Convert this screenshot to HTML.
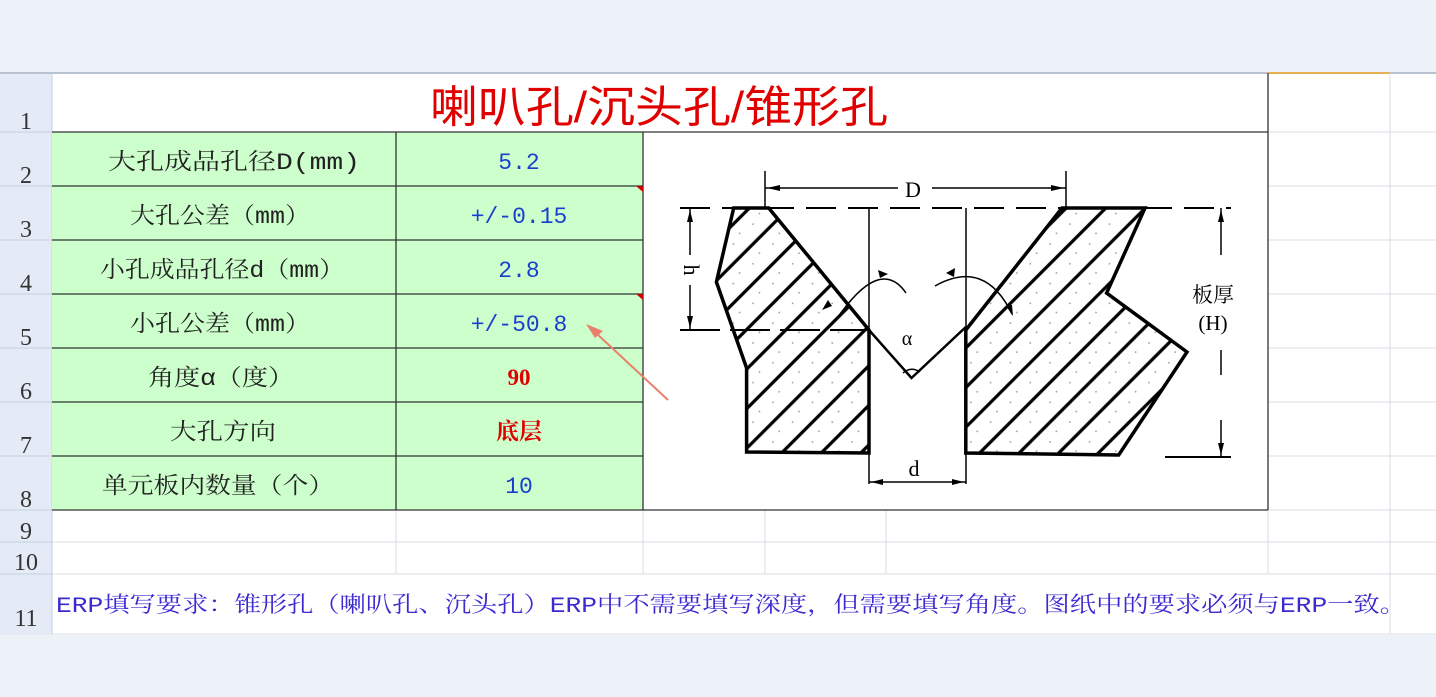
<!DOCTYPE html>
<html><head><meta charset="utf-8"><style>
html,body{margin:0;padding:0;width:1436px;height:697px;overflow:hidden;background:#edf2f9;}
svg{position:absolute;left:0;top:0;}
</style></head><body>
<svg width="1436" height="697" viewBox="0 0 1436 697" xmlns="http://www.w3.org/2000/svg">
<defs>
<pattern id="hatch" patternUnits="userSpaceOnUse" width="28" height="28" patternTransform="rotate(-45)">
<rect width="28" height="28" fill="#fff"/>
<line x1="0" y1="5" x2="28" y2="5" stroke="#000" stroke-width="3.2"/>
<circle cx="10" cy="19" r="0.9" fill="#999"/><circle cx="22" cy="16" r="0.9" fill="#999"/>
</pattern>
</defs>
<rect x="0" y="73" width="1436" height="562" fill="#fff"/>
<rect x="0" y="73" width="52" height="562" fill="#e4ebf6"/>
<line x1="0" y1="73" x2="1436" y2="73" stroke="#b8c2d0" stroke-width="2"/>
<line x1="1268" y1="73" x2="1390" y2="73" stroke="#e8b050" stroke-width="2"/>
<g stroke="#d8dde5" stroke-width="1">
<line x1="1268" y1="132" x2="1436" y2="132"/><line x1="1268" y1="186" x2="1436" y2="186"/>
<line x1="1268" y1="240" x2="1436" y2="240"/><line x1="1268" y1="294" x2="1436" y2="294"/>
<line x1="1268" y1="348" x2="1436" y2="348"/><line x1="1268" y1="402" x2="1436" y2="402"/>
<line x1="1268" y1="456" x2="1436" y2="456"/><line x1="1268" y1="510" x2="1436" y2="510"/>
<line x1="52" y1="542" x2="1436" y2="542"/><line x1="52" y1="574" x2="1436" y2="574"/>
<line x1="52" y1="634" x2="1436" y2="634"/>
<line x1="1390" y1="73" x2="1390" y2="634"/>
<line x1="396" y1="510" x2="396" y2="574"/><line x1="643" y1="510" x2="643" y2="574"/>
<line x1="765" y1="510" x2="765" y2="574"/><line x1="886" y1="510" x2="886" y2="574"/>
<line x1="1268" y1="510" x2="1268" y2="574"/>
</g>
<g stroke="#c5cfdd"><line x1="0" y1="132" x2="52" y2="132"/><line x1="0" y1="186" x2="52" y2="186"/><line x1="0" y1="240" x2="52" y2="240"/><line x1="0" y1="294" x2="52" y2="294"/><line x1="0" y1="348" x2="52" y2="348"/><line x1="0" y1="402" x2="52" y2="402"/><line x1="0" y1="456" x2="52" y2="456"/><line x1="0" y1="510" x2="52" y2="510"/><line x1="0" y1="542" x2="52" y2="542"/><line x1="0" y1="574" x2="52" y2="574"/><line x1="52" y1="73" x2="52" y2="634"/></g>
<rect x="52" y="132" width="591" height="378" fill="#ccffcc"/>
<g stroke="#333" stroke-width="1.3">
<line x1="52" y1="132" x2="1268" y2="132"/>
<line x1="52" y1="186" x2="643" y2="186"/><line x1="52" y1="240" x2="643" y2="240"/>
<line x1="52" y1="294" x2="643" y2="294"/><line x1="52" y1="348" x2="643" y2="348"/>
<line x1="52" y1="402" x2="643" y2="402"/><line x1="52" y1="456" x2="643" y2="456"/>
<line x1="52" y1="510" x2="1268" y2="510"/>
<line x1="396" y1="132" x2="396" y2="510"/><line x1="643" y1="132" x2="643" y2="510"/>
<line x1="1268" y1="73" x2="1268" y2="510"/>
</g>
<polygon points="636,186 643,186 643,192" fill="#c00"/>
<polygon points="636,294 643,294 643,300" fill="#c00"/>
<g font-family="Liberation Serif, serif" font-size="24" fill="#333" text-anchor="middle">
<text x="26" y="129">1</text><text x="26" y="183">2</text><text x="26" y="237">3</text><text x="26" y="291">4</text><text x="26" y="345">5</text><text x="26" y="399">6</text><text x="26" y="453">7</text><text x="26" y="507">8</text><text x="26" y="539">9</text><text x="26" y="570">10</text><text x="26" y="626">11</text>
</g>
<text x="430" y="122" textLength="458" lengthAdjust="spacingAndGlyphs" font-family="Liberation Sans, 'Noto Sans CJK SC', sans-serif" font-size="44" fill="#e00000">喇叭孔/沉头孔/锥形孔</text>
<g font-family="Liberation Mono, 'Noto Serif CJK SC', serif" font-size="23" fill="#222">
<text x="108" y="169" textLength="252" lengthAdjust="spacingAndGlyphs">大孔成品孔径D(mm)</text>
<text x="130" y="223" textLength="180" lengthAdjust="spacingAndGlyphs">大孔公差（mm）</text>
<text x="100" y="277" textLength="244" lengthAdjust="spacingAndGlyphs">小孔成品孔径d（mm）</text>
<text x="130" y="331" textLength="180" lengthAdjust="spacingAndGlyphs">小孔公差（mm）</text>
<text x="148" y="385" textLength="146" lengthAdjust="spacingAndGlyphs">角度α（度）</text>
<text x="170" y="439" textLength="106" lengthAdjust="spacingAndGlyphs">大孔方向</text>
<text x="102" y="493" textLength="232" lengthAdjust="spacingAndGlyphs">单元板内数量（个）</text>
</g>
<g font-family="Liberation Mono, 'Noto Serif CJK SC', monospace" font-size="23" fill="#1a3fcc" text-anchor="middle">
<text x="519" y="169">5.2</text><text x="519" y="223">+/-0.15</text><text x="519" y="277">2.8</text><text x="519" y="331">+/-50.8</text><text x="519" y="493">10</text>
</g>
<g font-family="Liberation Serif, 'Noto Serif CJK SC', serif" font-size="23" fill="#e00000" text-anchor="middle" font-weight="bold">
<text x="519" y="385">90</text><text x="519" y="439">底层</text>
</g>
<text x="56" y="612" textLength="1350" lengthAdjust="spacingAndGlyphs" font-family="Liberation Mono, 'Noto Serif CJK SC', serif" font-size="22" fill="#3a2ad0">ERP填写要求：锥形孔（喇叭孔、沉头孔）ERP中不需要填写深度，但需要填写角度。图纸中的要求必须与ERP一致。</text>
<line x1="668" y1="400" x2="596" y2="333" stroke="#e8806a" stroke-width="2"/>
<polygon points="586,324 603,331 595,338" fill="#e8806a"/>
<g stroke="#000" fill="none">
<polygon points="733.7,208 768.7,208 869,330 869,453 746.6,452 746.6,368 716.4,282" fill="url(#hatch)" stroke-width="3.5"/>
<polygon points="1062,208 1145,208 1106.6,293 1187,352 1118.7,455 965.8,453 965.8,330" fill="url(#hatch)" stroke-width="3.5"/>
<polyline points="869,330 911.5,378 965.8,327" stroke-width="2.5"/>
<line x1="869" y1="208" x2="869" y2="484" stroke-width="1.5"/>
<line x1="966" y1="208" x2="966" y2="484" stroke-width="1.5"/>
<line x1="680" y1="208" x2="1231" y2="208" stroke-width="2" stroke-dasharray="30,12"/>
<line x1="680" y1="330" x2="870" y2="330" stroke-width="2" stroke-dasharray="40,10"/>
<line x1="1165" y1="457" x2="1231" y2="457" stroke-width="2"/>
<line x1="765" y1="171" x2="765" y2="208" stroke-width="1.5"/>
<line x1="1066" y1="171" x2="1066" y2="208" stroke-width="1.5"/>
<line x1="765" y1="188" x2="898" y2="188" stroke-width="1.5"/><line x1="932" y1="188" x2="1066" y2="188" stroke-width="1.5"/>
<line x1="690" y1="208" x2="690" y2="255" stroke-width="1.5"/><line x1="690" y1="285" x2="690" y2="330" stroke-width="1.5"/>
<line x1="1221" y1="208" x2="1221" y2="255" stroke-width="1.5"/><line x1="1221" y1="350" x2="1221" y2="375" stroke-width="1.5"/><line x1="1221" y1="420" x2="1221" y2="457" stroke-width="1.5"/>
<line x1="869" y1="482" x2="966" y2="482" stroke-width="1.5"/>
<path d="M836,320 Q880,255 906,293" stroke-width="1.5"/>
<path d="M935,286 Q985,258 1012,314" stroke-width="1.5"/>
<path d="M903,373 Q911,366 920,372" stroke-width="1.5"/>
</g>
<g fill="#000">
<polygon points="767,188 780,185 780,191"/><polygon points="1064,188 1051,185 1051,191"/>
<polygon points="690,210 687,222 693,222"/><polygon points="690,328 687,316 693,316"/>
<polygon points="1221,210 1218,222 1224,222"/><polygon points="1221,455 1218,443 1224,443"/>
<polygon points="871,482 883,479 883,485"/><polygon points="964,482 952,479 952,485"/>
<polygon points="888,274 878,270 880,278"/><polygon points="946,273 955,268 954,277"/>
<polygon points="822,310 828,300 832,306"/><polygon points="1013,316 1006,306 1012,305"/>
</g>
<g font-family="Liberation Serif, serif" fill="#000" font-size="22" text-anchor="middle">
<text x="913" y="197">D</text>
<text x="914" y="476">d</text>
<text x="907" y="345" font-size="20">α</text>
<text x="690" y="270" transform="rotate(90 690 270)" dy="6">h</text>
</g>
<text x="1213" y="302" font-family="Liberation Serif, 'Noto Serif CJK SC', serif" font-size="21" text-anchor="middle">板厚</text>
<text x="1213" y="330" font-family="Liberation Serif, 'Noto Serif CJK SC', serif" font-size="21" text-anchor="middle">(H)</text>
</svg>
</body></html>
